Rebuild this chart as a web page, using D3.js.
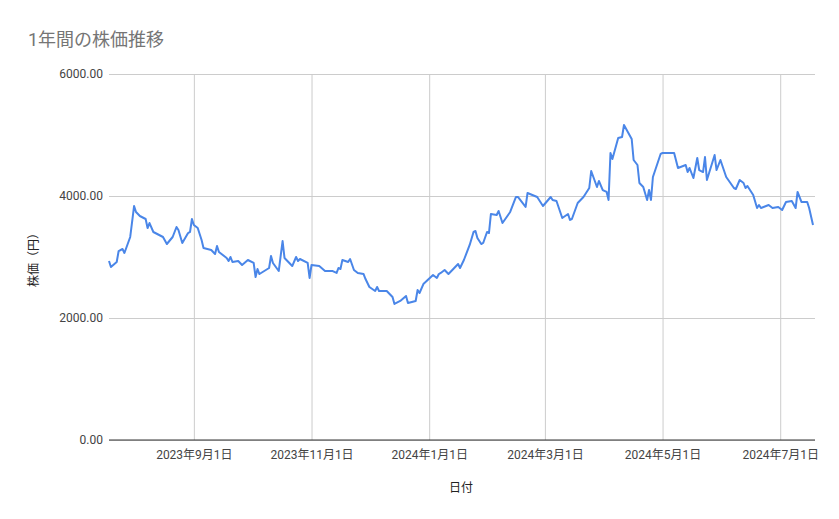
<!DOCTYPE html>
<html><head><meta charset="utf-8">
<script src="https://cdn.jsdelivr.net/npm/d3@7"></script>
<style>body{margin:0;background:#fff;font-family:Roboto,"Noto Sans CJK JP",sans-serif}</style>
</head><body><svg id="c" width="839" height="519"></svg>
<script>
const dates=["2023-07-19","2023-07-20","2023-07-23","2023-07-24","2023-07-26","2023-07-27","2023-07-30","2023-08-01","2023-08-02","2023-08-04","2023-08-07","2023-08-08","2023-08-09","2023-08-11","2023-08-16","2023-08-18","2023-08-21","2023-08-23","2023-08-24","2023-08-26","2023-08-29","2023-08-30","2023-08-31","2023-09-01","2023-09-03","2023-09-05","2023-09-06","2023-09-10","2023-09-12","2023-09-13","2023-09-14","2023-09-18","2023-09-19","2023-09-20","2023-09-21","2023-09-24","2023-09-26","2023-09-29","2023-10-02","2023-10-03","2023-10-04","2023-10-05","2023-10-10","2023-10-11","2023-10-12","2023-10-15","2023-10-17","2023-10-18","2023-10-22","2023-10-24","2023-10-25","2023-10-26","2023-10-30","2023-10-31","2023-11-01","2023-11-05","2023-11-08","2023-11-12","2023-11-14","2023-11-15","2023-11-16","2023-11-17","2023-11-20","2023-11-21","2023-11-23","2023-11-25","2023-11-28","2023-11-29","2023-12-01","2023-12-04","2023-12-05","2023-12-06","2023-12-10","2023-12-13","2023-12-14","2023-12-17","2023-12-20","2023-12-21","2023-12-25","2023-12-26","2023-12-27","2023-12-29","2024-01-03","2024-01-05","2024-01-06","2024-01-07","2024-01-09","2024-01-11","2024-01-14","2024-01-16","2024-01-17","2024-01-19","2024-01-22","2024-01-24","2024-01-25","2024-01-26","2024-01-28","2024-01-29","2024-01-31","2024-02-01","2024-02-02","2024-02-05","2024-02-06","2024-02-08","2024-02-12","2024-02-15","2024-02-16","2024-02-20","2024-02-21","2024-02-26","2024-02-29","2024-03-04","2024-03-05","2024-03-07","2024-03-10","2024-03-13","2024-03-14","2024-03-15","2024-03-18","2024-03-21","2024-03-24","2024-03-25","2024-03-28","2024-03-29","2024-03-31","2024-04-02","2024-04-03","2024-04-04","2024-04-05","2024-04-08","2024-04-10","2024-04-11","2024-04-15","2024-04-16","2024-04-18","2024-04-19","2024-04-21","2024-04-23","2024-04-24","2024-04-25","2024-04-26","2024-04-30","2024-05-01","2024-05-07","2024-05-09","2024-05-13","2024-05-14","2024-05-15","2024-05-17","2024-05-19","2024-05-20","2024-05-22","2024-05-23","2024-05-24","2024-05-28","2024-05-29","2024-05-31","2024-06-03","2024-06-07","2024-06-08","2024-06-10","2024-06-12","2024-06-13","2024-06-14","2024-06-17","2024-06-19","2024-06-20","2024-06-21","2024-06-25","2024-06-27","2024-06-30","2024-07-02","2024-07-04","2024-07-07","2024-07-09","2024-07-10","2024-07-12","2024-07-15","2024-07-16","2024-07-18"];
const prices=[2934,2836,2918,3098,3131,3066,3328,3836,3738,3672,3623,3475,3557,3410,3328,3213,3328,3492,3443,3230,3393,3410,3623,3525,3475,3279,3148,3115,3049,3180,3082,2984,2934,3000,2918,2934,2869,2951,2902,2672,2803,2721,2820,3016,2902,2770,3262,2984,2852,3000,2934,2967,2902,2656,2869,2852,2770,2770,2738,2820,2803,2951,2918,2967,2787,2738,2721,2639,2508,2443,2508,2443,2443,2344,2230,2279,2361,2246,2279,2459,2410,2557,2705,2656,2721,2738,2787,2721,2820,2885,2820,2951,3197,3410,3426,3311,3213,3230,3410,3393,3705,3689,3754,3557,3738,3984,3984,3820,4049,3984,3836,3984,3934,3918,3639,3705,3607,3623,3885,3984,4131,4410,4148,4246,4098,4066,3934,4705,4607,4951,4967,5164,4934,4590,4508,4213,4148,3934,4098,3934,4311,4689,4705,4705,4459,4508,4393,4459,4295,4623,4426,4393,4639,4262,4672,4426,4590,4311,4131,4115,4262,4213,4131,4164,4016,3803,3852,3803,3852,3803,3820,3770,3902,3918,3803,4066,3902,3902,3803,3525];
const yTicks=[0,2000,4000,6000];
const xTickDates=["2023-09-01","2023-11-01","2024-01-01","2024-03-01","2024-05-01","2024-07-01"];
const title="1年間の株価推移", yTitle="株価（円）", xTitle="日付";

const parse=d3.timeParse("%Y-%m-%d");
const data=dates.map((d,i)=>({d:parse(d),v:prices[i]}));
const svg=d3.select("#c");
const L=109,R=813,T=74,B=440;
const x=d3.scaleTime().domain(d3.extent(data,d=>d.d)).range([L,R]);
const y=d3.scaleLinear().domain([0,6000]).range([B,T]);
const fmt=d=>`${d.getFullYear()}年${d.getMonth()+1}月${d.getDate()}日`;

svg.append("text").attr("x",28).attr("y",46).attr("font-size",18).attr("fill","#757575").text(title);

const gy=svg.append("g").attr("transform",`translate(${L},0)`)
 .call(d3.axisLeft(y).tickValues(yTicks).tickSize(-(R+2-L)).tickFormat(d3.format(".2f")));
gy.select(".domain").remove();
gy.selectAll("line").attr("stroke","#cccccc");
gy.selectAll("text").attr("font-size",12).attr("fill","#444").attr("x",-6).attr("font-family","Roboto");
const gx=svg.append("g").attr("transform",`translate(0,${B})`)
 .call(d3.axisBottom(x).tickValues(xTickDates.map(parse)).tickSize(-(B-T)).tickFormat(fmt));
gx.select(".domain").remove();
gx.selectAll("line").attr("stroke","#cccccc");
gx.selectAll("text").attr("font-size",12).attr("fill","#444").attr("dy","1.3em").attr("font-family","Roboto,'Noto Sans CJK JP'");
svg.append("line").attr("x1",L).attr("x2",R+2).attr("y1",y(0)).attr("y2",y(0)).attr("stroke","#333");

svg.append("path").datum(data).attr("fill","none").attr("stroke","#4a86e8").attr("stroke-width",2)
 .attr("stroke-linejoin","round").attr("d",d3.line().x(d=>x(d.d)).y(d=>y(d.v)));

svg.append("text").attr("x",(L+R)/2).attr("y",492).attr("text-anchor","middle").attr("font-size",12).attr("fill","#222").text(xTitle);
svg.append("text").attr("transform",`translate(38,257) rotate(-90)`).attr("text-anchor","middle").attr("font-size",12).attr("fill","#222").text(yTitle);
</script></body></html>
